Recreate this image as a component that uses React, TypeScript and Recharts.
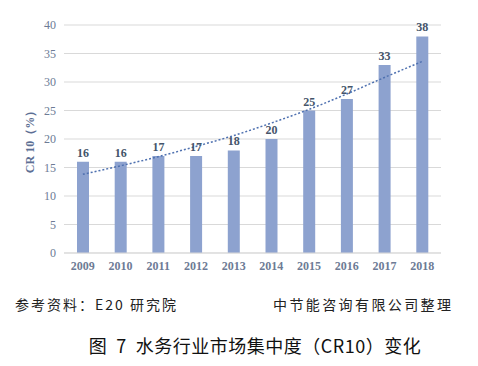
import { ComposedChart, Bar, Line, XAxis, YAxis, CartesianGrid, LabelList } from "recharts"

// 年份
const years = ["2009", "2010", "2011", "2012", "2013", "2014", "2015", "2016", "2017", "2018"]
// CR10 (%)
const cr10 = [16, 16, 17, 17, 18, 20, 25, 27, 33, 38]
// 趋势线
const trend = [13.8, 15.3, 16.9, 18.7, 20.6, 22.8, 25.2, 27.9, 30.8, 33.6]
const yTicks = [0, 5, 10, 15, 20, 25, 30, 35, 40]

const data = years.map((y, i) => ({ year: y, cr10: cr10[i], trend: trend[i] }))

const serif = "'Liberation Serif', 'DejaVu Serif', serif"
const cjk = "'Noto Sans CJK SC', sans-serif"

export default function App() {
  return (
    <div style={{ position: "absolute", left: 0, top: 0, width: 478, height: 366, background: "#fff" }}>
      <ComposedChart
        width={478}
        height={290}
        data={data}
        margin={{ top: 25, right: 37, left: 0, bottom: 7 }}
      >
        <CartesianGrid vertical={false} stroke="#d9d9d9" />
        <XAxis
          dataKey="year"
          height={30}
          axisLine={{ stroke: "#d9d9d9" }}
          tickLine={false}
          tick={{ fontSize: 12, fontFamily: serif, fontWeight: 700, fill: "#6d7b95" }}
        />
        <YAxis
          width={64}
          domain={[0, 40]}
          ticks={yTicks}
          axisLine={false}
          tickLine={false}
          tick={{ fontSize: 12, fontFamily: serif, fill: "#6d7b95" }}
          label={{
            value: "CR 10（%）",
            angle: -90,
            position: "center",
            dx: -2,
            style: { fontSize: 12, fontFamily: serif, fontWeight: 700, fill: "#5c6f94" },
          }}
        />
        <Bar dataKey="cr10" fill="#8da2cf" barSize={12} isAnimationActive={false}>
          <LabelList
            dataKey="cr10"
            position="top"
            style={{ fontSize: 12, fontFamily: serif, fontWeight: 700, fill: "#44546a" }}
          />
        </Bar>
        <Line
          type="monotone"
          dataKey="trend"
          stroke="#4f71b0"
          strokeWidth={1.5}
          strokeDasharray="2 2"
          dot={false}
          isAnimationActive={false}
        />
      </ComposedChart>

      {/* 资料来源 */}
      <div style={{ position: "absolute", left: 15, top: 294, fontSize: 14, fontFamily: cjk, color: "#222", letterSpacing: 2, whiteSpace: "nowrap" }}>
        参考资料：E20 研究院
      </div>
      <div style={{ position: "absolute", left: 273, top: 294, fontSize: 14, fontFamily: cjk, color: "#222", letterSpacing: 2.4, whiteSpace: "nowrap" }}>
        中节能咨询有限公司整理
      </div>

      {/* 标题 */}
      <div style={{ position: "absolute", left: 0, width: 478, top: 332, paddingLeft: 32, boxSizing: "border-box", textAlign: "center", fontSize: 18, fontFamily: cjk, color: "#111", letterSpacing: 0.5, whiteSpace: "pre" }}>
        {"图  7  水务行业市场集中度（CR10）变化"}
      </div>
    </div>
  )
}
